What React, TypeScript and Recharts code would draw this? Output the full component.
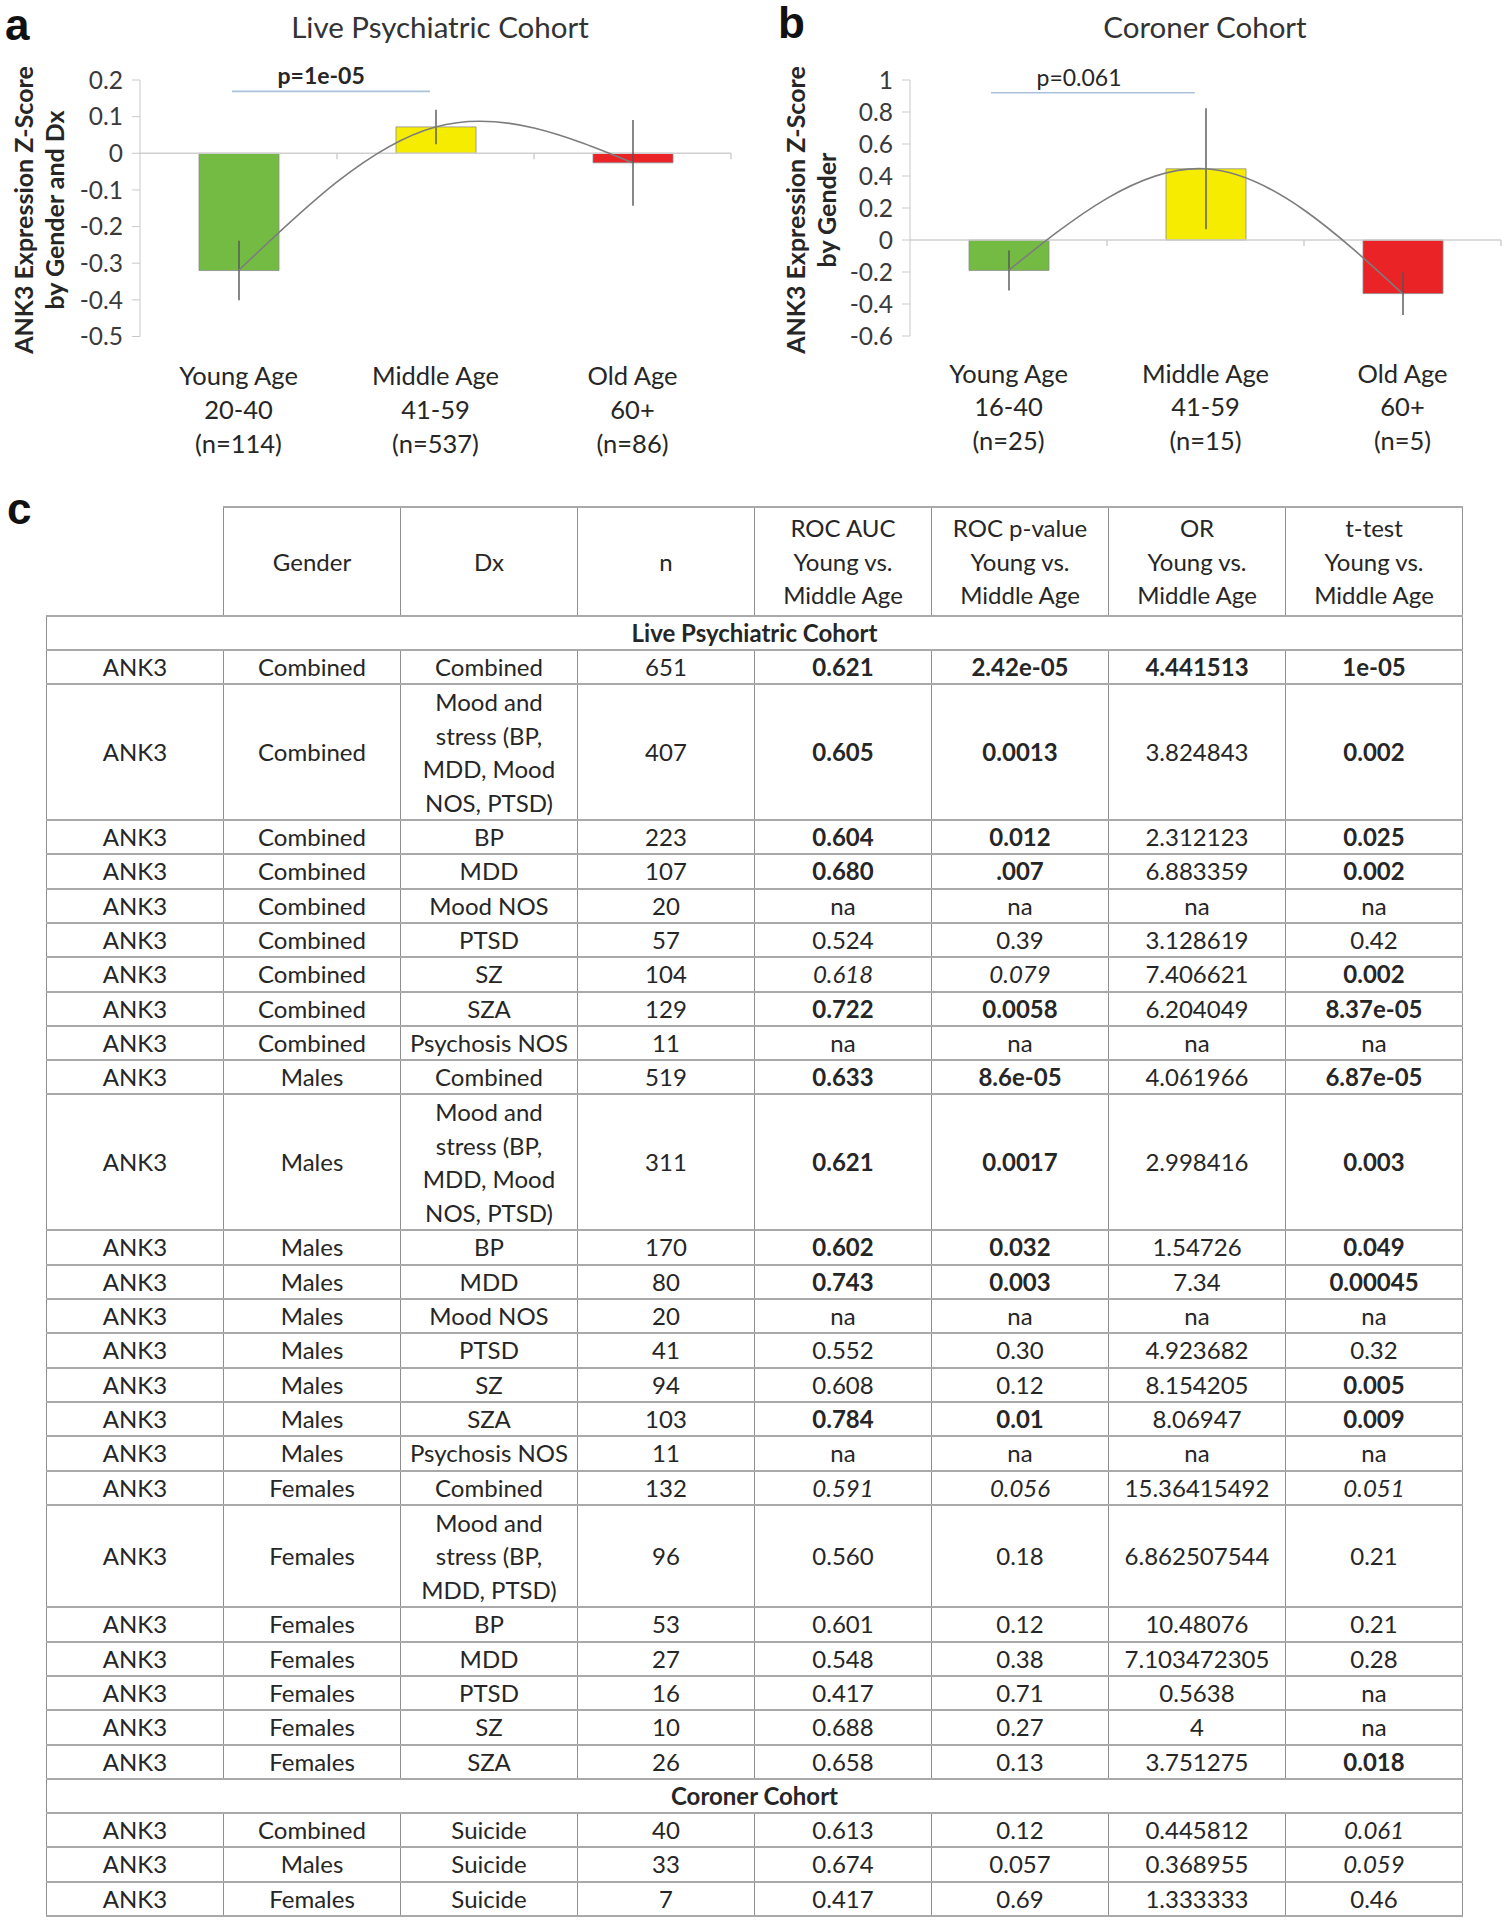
import React from 'react';
import { ComposedChart, Bar, Line, XAxis, YAxis, ErrorBar, ReferenceLine, ReferenceDot, Cell } from 'recharts';

const FONT = "Lato, 'Open Sans', 'Liberation Sans', sans-serif";
const TEXT = '#262626';

// ---------- Panel a: Live Psychiatric Cohort ----------
const groupsA = ['Young Age', 'Middle Age', 'Old Age'];
const rangesA = ['20-40', '41-59', '60+'];
const countsA = ['(n=114)', '(n=537)', '(n=86)'];
const zA = [-0.32, 0.072, -0.026];
const errA = [0.081, 0.047, 0.117];
const ticksA = [0.2, 0.1, 0, -0.1, -0.2, -0.3, -0.4, -0.5];
const pTextA = 'p=1e-05';

// ---------- Panel b: Coroner Cohort ----------
const groupsB = ['Young Age', 'Middle Age', 'Old Age'];
const rangesB = ['16-40', '41-59', '60+'];
const countsB = ['(n=25)', '(n=15)', '(n=5)'];
const zB = [-0.19, 0.445, -0.335];
const errB = [0.125, 0.378, 0.134];
const ticksB = [1, 0.8, 0.6, 0.4, 0.2, 0, -0.2, -0.4, -0.6];
const pTextB = 'p=0.061';

const barColors = ['#74bb44', '#f5ec00', '#ea2327'];

// ---------- Panel c: table ----------
const tableHeaders = ['', 'Gender', 'Dx', 'n', 'ROC AUC\nYoung vs.\nMiddle Age', 'ROC p-value\nYoung vs.\nMiddle Age', 'OR\nYoung vs.\nMiddle Age', 't-test\nYoung vs.\nMiddle Age'];
const liveTitle = 'Live Psychiatric Cohort';
const liveRows = [
  ['ANK3', 'Combined', 'Combined', '651', '**0.621', '**2.42e-05', '**4.441513', '**1e-05'],
  ['ANK3', 'Combined', 'Mood and\nstress (BP,\nMDD, Mood\nNOS, PTSD)', '407', '**0.605', '**0.0013', '3.824843', '**0.002'],
  ['ANK3', 'Combined', 'BP', '223', '**0.604', '**0.012', '2.312123', '**0.025'],
  ['ANK3', 'Combined', 'MDD', '107', '**0.680', '**.007', '6.883359', '**0.002'],
  ['ANK3', 'Combined', 'Mood NOS', '20', 'na', 'na', 'na', 'na'],
  ['ANK3', 'Combined', 'PTSD', '57', '0.524', '0.39', '3.128619', '0.42'],
  ['ANK3', 'Combined', 'SZ', '104', '_0.618', '_0.079', '7.406621', '**0.002'],
  ['ANK3', 'Combined', 'SZA', '129', '**0.722', '**0.0058', '6.204049', '**8.37e-05'],
  ['ANK3', 'Combined', 'Psychosis NOS', '11', 'na', 'na', 'na', 'na'],
  ['ANK3', 'Males', 'Combined', '519', '**0.633', '**8.6e-05', '4.061966', '**6.87e-05'],
  ['ANK3', 'Males', 'Mood and\nstress (BP,\nMDD, Mood\nNOS, PTSD)', '311', '**0.621', '**0.0017', '2.998416', '**0.003'],
  ['ANK3', 'Males', 'BP', '170', '**0.602', '**0.032', '1.54726', '**0.049'],
  ['ANK3', 'Males', 'MDD', '80', '**0.743', '**0.003', '7.34', '**0.00045'],
  ['ANK3', 'Males', 'Mood NOS', '20', 'na', 'na', 'na', 'na'],
  ['ANK3', 'Males', 'PTSD', '41', '0.552', '0.30', '4.923682', '0.32'],
  ['ANK3', 'Males', 'SZ', '94', '0.608', '0.12', '8.154205', '**0.005'],
  ['ANK3', 'Males', 'SZA', '103', '**0.784', '**0.01', '8.06947', '**0.009'],
  ['ANK3', 'Males', 'Psychosis NOS', '11', 'na', 'na', 'na', 'na'],
  ['ANK3', 'Females', 'Combined', '132', '_0.591', '_0.056', '15.36415492', '_0.051'],
  ['ANK3', 'Females', 'Mood and\nstress (BP,\nMDD, PTSD)', '96', '0.560', '0.18', '6.862507544', '0.21'],
  ['ANK3', 'Females', 'BP', '53', '0.601', '0.12', '10.48076', '0.21'],
  ['ANK3', 'Females', 'MDD', '27', '0.548', '0.38', '7.103472305', '0.28'],
  ['ANK3', 'Females', 'PTSD', '16', '0.417', '0.71', '0.5638', 'na'],
  ['ANK3', 'Females', 'SZ', '10', '0.688', '0.27', '4', 'na'],
  ['ANK3', 'Females', 'SZA', '26', '0.658', '0.13', '3.751275', '**0.018'],
];
const coronerTitle = 'Coroner Cohort';
const coronerRows = [
  ['ANK3', 'Combined', 'Suicide', '40', '0.613', '0.12', '0.445812', '_0.061'],
  ['ANK3', 'Males', 'Suicide', '33', '0.674', '0.057', '0.368955', '_0.059'],
  ['ANK3', 'Females', 'Suicide', '7', '0.417', '0.69', '1.333333', '0.46'],
];

const fmtTick = (v: number) => (v === 0 ? '0' : Number.isInteger(v) ? String(v) : v.toFixed(1));

type PanelProps = {
  left: number; width: number; margin: any;
  groups: string[]; ranges: string[]; counts: string[];
  z: number[]; err: number[]; ticks: number[];
  pText: string; pBold: boolean; pSpan: number[]; pY: number; pLabelX: number; tickLen: number; labelOffset: number;
};

// hidden linear helper axis spanning the plot width: 0 = left edge, 2 = right edge
const GUIDE_DOMAIN = [0, 2];
const BAND_EDGES = [2 / 3, 4 / 3, 2];

function Panel(p: PanelProps) {
  const data = p.groups.map((g, i) => ({ cat: g, range: p.ranges[i], count: p.counts[i], z: p.z[i], err: p.err[i] }));
  const CatTick = (props: any) => {
    const { x, y, payload } = props;
    const row = data.find((d) => d.cat === payload.value);
    if (!row) return null;
    const lines = [row.cat, row.range, row.count];
    return (
      <g>
        {lines.map((t, i) => (
          <text key={i} x={x} y={y + p.labelOffset + i * 33.8} textAnchor="middle" dominantBaseline="central"
            fill={TEXT} fontSize={25.5} fontFamily={FONT}>{t}</text>
        ))}
      </g>
    );
  };
  const dom = [p.ticks[p.ticks.length - 1], p.ticks[0]];
  return (
    <div style={{ position: 'absolute', left: p.left, top: 0 }}>
      <ComposedChart width={p.width} height={470} data={data} margin={p.margin}>
        <XAxis dataKey="cat" type="category" axisLine={false} tickLine={false} tickSize={0} tickMargin={0}
          height={110} tick={<CatTick />} interval={0} />
        <XAxis xAxisId="num" type="number" domain={GUIDE_DOMAIN} allowDataOverflow hide />
        <YAxis type="number" domain={dom} ticks={p.ticks} interval={0} allowDataOverflow width={70}
          tickFormatter={fmtTick} stroke="#c9c9c9" tickSize={8} tickMargin={9}
          tick={{ fill: '#3a3a3a', fontSize: 24.5, fontFamily: FONT }} />
        <ReferenceLine y={0} stroke="#cfcfcf" strokeWidth={1.5} />
        {BAND_EDGES.map((b) => (
          <ReferenceLine key={b} xAxisId="num" segment={[{ x: b, y: 0 }, { x: b, y: -p.tickLen }]} stroke="#cfcfcf" strokeWidth={1.5} />
        ))}
        <Bar dataKey="z" barSize={80} isAnimationActive={false} stroke="#8c8c8c" strokeWidth={0.8}>
          {data.map((d, i) => <Cell key={i} fill={barColors[i]} />)}
          <ErrorBar dataKey="err" width={0} stroke="#555555" strokeWidth={1.4} direction="y" isAnimationActive={false} />
        </Bar>
        <Line dataKey="z" type="natural" stroke="#7d7d7d" strokeWidth={1.6} dot={false} activeDot={false} isAnimationActive={false} />
        <ReferenceLine xAxisId="num" segment={[{ x: p.pSpan[0], y: p.pY }, { x: p.pSpan[1], y: p.pY }]} stroke="#a9c1da" strokeWidth={1.6} />
        <ReferenceDot xAxisId="num" x={p.pLabelX} y={p.pY} r={1} fill="none" stroke="none"
          label={{ value: p.pText, position: 'top', offset: 6, fill: TEXT, fontSize: 23, fontFamily: FONT, fontWeight: p.pBold ? 700 : 400 }} />
      </ComposedChart>
    </div>
  );
}

const renderCell = (s: string) => {
  if (s.startsWith('**')) return <b>{s.slice(2)}</b>;
  if (s.startsWith('_')) return <i>{s.slice(1)}</i>;
  return s;
};

const HB = '2px solid #a9a9a9';
const VB = '1px solid #8f8f8f';
const cellStyle: React.CSSProperties = {
  borderTop: HB, borderBottom: HB, borderLeft: VB, borderRight: VB,
  padding: 0, textAlign: 'center', verticalAlign: 'middle', whiteSpace: 'pre-line', lineHeight: '32.3px',
};
const multiStyle: React.CSSProperties = { ...cellStyle, lineHeight: '33.5px' };
const headStyle: React.CSSProperties = { ...cellStyle, paddingTop: 3, paddingBottom: 3, lineHeight: '33.5px' };

function DataTable() {
  const rowEls = (rows: string[][], key: string) =>
    rows.map((r, ri) => (
      <tr key={key + ri}>
        {r.map((c, ci) => <td key={ci} style={c.includes('\n') ? multiStyle : cellStyle}>{renderCell(c)}</td>)}
      </tr>
    ));
  return (
    <table style={{ position: 'absolute', left: 46, top: 506, borderCollapse: 'collapse', tableLayout: 'fixed', width: 1416,
      fontFamily: FONT, fontSize: 24, color: TEXT }}>
      <colgroup>{tableHeaders.map((_, i) => <col key={i} style={{ width: 177 }} />)}</colgroup>
      <tbody>
        <tr>
          {tableHeaders.map((h, i) => (
            <td key={i} style={i === 0 ? { ...headStyle, border: 'none', borderBottom: HB } : headStyle}>{h}</td>
          ))}
        </tr>
        <tr><td colSpan={8} style={{ ...cellStyle, fontWeight: 700 }}>{liveTitle}</td></tr>
        {rowEls(liveRows, 'l')}
        <tr><td colSpan={8} style={{ ...cellStyle, fontWeight: 700 }}>{coronerTitle}</td></tr>
        {rowEls(coronerRows, 'c')}
      </tbody>
    </table>
  );
}

const panelLetter = (t: string, left: number, top: number, size: number) => (
  <div style={{ position: 'absolute', left, top, fontFamily: "'Liberation Sans', Arial, sans-serif", fontWeight: 700, fontSize: size, lineHeight: size + 'px', color: '#111' }}>{t}</div>
);

const yLabel = (l1: string, l2: string, cx: number) => (
  <div style={{ position: 'absolute', left: cx - 170, top: 210 - 31, width: 340, height: 62, transform: 'rotate(-90deg)',
    textAlign: 'center', fontFamily: FONT, fontWeight: 700, fontSize: 25, lineHeight: '31px', color: TEXT }}>
    <div>{l1}</div><div>{l2}</div>
  </div>
);

const title = (t: string, cx: number) => (
  <div style={{ position: 'absolute', left: cx - 250, top: 8, width: 500, textAlign: 'center', fontFamily: FONT, fontSize: 29.5, lineHeight: '38px', color: '#333' }}>{t}</div>
);

export default function App() {
  return (
    <div style={{ position: 'absolute', left: 0, top: 0, width: 1508, height: 1920, background: '#fff' }}>
      {panelLetter('a', 5, 3, 44)}
      {panelLetter('b', 778, 1, 44)}
      {panelLetter('c', 7, 487, 44)}
      {title('Live Psychiatric Cohort', 440)}
      {title('Coroner Cohort', 1205)}
      {yLabel('ANK3 Expression Z-Score', 'by Gender and Dx', 39)}
      {yLabel('ANK3 Expression Z-Score', 'by Gender', 811)}
      <Panel left={0} width={760} margin={{ top: 80, right: 29, bottom: 23.5, left: 70 }}
        groups={groupsA} ranges={rangesA} counts={countsA} z={zA} err={errA} ticks={ticksA}
        pText={pTextA} pBold={true} pSpan={[0.311, 0.981]} pY={0.169} pLabelX={0.613} tickLen={0.016} labelOffset={38.5} />
      <Panel left={760} width={748} margin={{ top: 80, right: 7, bottom: 24, left: 80 }}
        groups={groupsB} ranges={rangesB} counts={countsB} z={zB} err={errB} ticks={ticksB}
        pText={pTextB} pBold={false} pSpan={[0.274, 0.964]} pY={0.92} pLabelX={0.572} tickLen={0.0375} labelOffset={36.5} />
      <DataTable />
    </div>
  );
}
